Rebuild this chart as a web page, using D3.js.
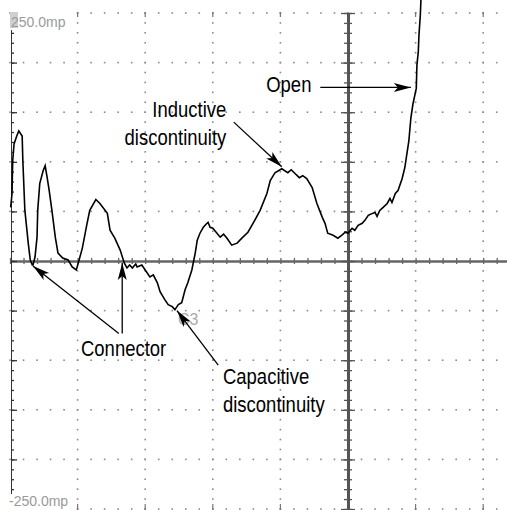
<!DOCTYPE html>
<html>
<head>
<meta charset="utf-8">
<script src="https://cdn.jsdelivr.net/npm/d3@7"></script>
<style>
  html, body { margin: 0; padding: 0; background: #fff; }
  svg { display: block; }
  .note { font-family: "Liberation Sans", Arial, sans-serif; font-size: 21.5px; fill: #000; }
  .scale { font-family: "Liberation Sans", Arial, sans-serif; font-size: 14px; fill: #9a9a9a; }
</style>
</head>
<body>
<div id="chart"></div>
<script>
// TDR trace: time in screen divisions, reflection in milli-rho
const timeDiv = [
  0.01, 0.03, 0.04, 0.06, 0.10, 0.13, 0.18, 0.19, 0.22, 0.27,
  0.30, 0.33, 0.34, 0.37, 0.40, 0.41, 0.44, 0.49, 0.52, 0.55,
  0.58, 0.62, 0.67, 0.71, 0.78, 0.86, 0.92, 0.98, 1.01, 1.07,
  1.14, 1.18, 1.27, 1.33, 1.44, 1.48, 1.55, 1.63, 1.69, 1.73,
  1.77, 1.81, 1.86, 1.88, 1.95, 2.00, 2.07, 2.12, 2.18, 2.22, 2.29,
  2.34, 2.40, 2.44, 2.47, 2.49, 2.54, 2.59, 2.63, 2.69, 2.74,
  2.77, 2.81, 2.86, 2.90, 2.93, 2.96, 3.00, 3.11, 3.16, 3.21, 3.28, 3.36, 3.43,
  3.52, 3.62, 3.70, 3.80, 3.85, 3.92, 4.02, 4.11, 4.16, 4.22, 4.28, 4.33,
  4.39, 4.47, 4.54, 4.62, 4.66, 4.70, 4.78, 4.85, 4.91, 4.96,
  5.00, 5.06, 5.10, 5.15, 5.21, 5.25, 5.30, 5.36, 5.40, 5.43, 5.47,
  5.52, 5.58, 5.62, 5.65, 5.70, 5.74, 5.80, 5.84, 5.90, 5.93,
  5.96, 6.01, 6.02, 6.04, 6.05, 6.07, 6.08
];
const rhoMilli = [
  54, 68, 101, 118, 126, 131, 126, 101, 51, 18,
  1, -4, -4, 4, 24, 51, 78, 91, 96, 84,
  71, 51, 24, 8, 3, 1, -6, -9, -2, 13,
  38, 51, 62, 58, 48, 31, 23, 11, -2, -7,
  -4, -7, -3, -6, -4, -9, -16, -14, -22, -31, -39,
  -44, -46, -49, -46, -44, -42, -29, -22, -9, 8,
  21, 28, 34, 37, 39, 34, 33, 24, 27, 23, 16, 18, 23,
  29, 41, 51, 68, 81, 89, 93, 89, 92, 88, 84, 86,
  83, 74, 58, 44, 38, 28, 26, 23, 26, 29,
  28, 33, 31, 36, 38, 41, 46, 48, 49, 45, 51,
  54, 58, 63, 59, 68, 71, 83, 94, 121, 144,
  158, 174, 198, 211, 228, 248, 265
];
const scaleTop = '250.0mp';
const scaleBottom = '-250.0mp';
const cursorLabel = 'C3';

// annotation texts, placed in data units (t, mrho)
const noteTexts = ['Open', 'Inductive', 'discontinuity', 'Connector', 'Capacitive', 'discontinuity'];
const notePos = [[3.79, 170, 'start'], [3.20, 145, 'end'], [3.20, 117, 'end'], [1.05, -96, 'start'], [3.15, -124, 'start'], [3.15, -152, 'start']];
// arrows: [tail t, tail rho, tip t, tip rho]
const arrows = [
  [4.59, 175, 5.93, 175],
  [3.31, 140, 4.02, 95],
  [1.61, -73, 0.34, -5],
  [1.66, -73, 1.66, -2],
  [3.08, -105, 2.47, -50]
];

const W = 507, H = 510;
const x = d3.scaleLinear().domain([0, 10]).range([10, 686]);
const y = d3.scaleLinear().domain([-250, 250]).range([509, 13]);

const svg = d3.select('#chart').append('svg')
  .attr('width', W)
  .attr('height', H);
svg.append('rect').attr('width', W).attr('height', H).attr('fill', '#fff');

// dotted graticule
const majorT = d3.range(0, 11, 1);
const majorV = d3.range(-250, 251, 50);
const minorT = d3.range(0, 10.01, 0.2);
const minorV = d3.range(-250, 251, 10);

const grid = svg.append('g').attr('fill', '#8a8a8a');
majorV.filter(v => v !== 0).forEach(v => {
  grid.selectAll(null).data(minorT).join('rect')
    .attr('x', d => x(d) - 0.8)
    .attr('y', y(v) - 0.8)
    .attr('width', 1.6).attr('height', 1.6);
});
majorT.filter(t => t !== 0 && t !== 5).forEach(t => {
  grid.selectAll(null).data(minorV).join('rect')
    .attr('x', x(t) - 0.8)
    .attr('y', d => y(d) - 0.8)
    .attr('width', 1.6).attr('height', 1.6);
});
// column marks on top and bottom rows
const edgeMarks = svg.append('g').attr('stroke', '#777').attr('stroke-width', 1.2);
majorT.filter(t => t !== 0 && t !== 5).forEach(t => {
  edgeMarks.append('line').attr('x1', x(t)).attr('x2', x(t)).attr('y1', y(250) - 1).attr('y2', y(250) + 4);
  edgeMarks.append('line').attr('x1', x(t)).attr('x2', x(t)).attr('y1', y(-250) - 5).attr('y2', y(-250) + 1);
});

// centre crosshair
function styleAxis(g, color, width) {
  g.select('.domain').attr('stroke', color).attr('stroke-width', width);
  g.selectAll('.tick line').attr('stroke', color).attr('stroke-width', 1.3);
}
const hAxis = svg.append('g').attr('transform', `translate(0,${y(0)})`);
hAxis.append('g').call(d3.axisTop(x).tickValues(minorT).tickSize(3).tickSizeOuter(0).tickFormat(''))
  .call(g => styleAxis(g, '#666', 2));
hAxis.append('g').call(d3.axisBottom(x).tickValues(minorT).tickSize(3).tickSizeOuter(0).tickFormat(''))
  .call(g => styleAxis(g, '#666', 2));

const vAxis = svg.append('g').attr('transform', `translate(${x(5)},0)`);
vAxis.append('g').call(d3.axisLeft(y).tickValues(minorV).tickSize(4).tickSizeOuter(0).tickFormat(''))
  .call(g => styleAxis(g, '#555', 3));
vAxis.append('g').call(d3.axisRight(y).tickValues(minorV).tickSize(4).tickSizeOuter(0).tickFormat(''))
  .call(g => styleAxis(g, '#555', 3));
vAxis.append('g').call(d3.axisLeft(y).tickValues(majorV).tickSize(7).tickSizeOuter(0).tickFormat(''))
  .call(g => styleAxis(g, '#555', 3));
vAxis.append('g').call(d3.axisRight(y).tickValues(majorV).tickSize(7).tickSizeOuter(0).tickFormat(''))
  .call(g => styleAxis(g, '#555', 3));

// left edge scale
const leftEdge = svg.append('g').attr('transform', `translate(${x(0) + 1},0)`);
leftEdge.append('g').call(d3.axisRight(y).tickValues(minorV).tickSize(3).tickSizeOuter(0).tickFormat(''))
  .call(g => styleAxis(g, '#333', 1));
leftEdge.append('g').call(d3.axisRight(y).tickValues(majorV).tickSize(6).tickSizeOuter(0).tickFormat(''))
  .call(g => styleAxis(g, '#333', 1));

// scale readouts
svg.append('rect').attr('x', 10).attr('y', 12).attr('width', 58).attr('height', 18).attr('fill', '#fff');
svg.append('rect').attr('x', 10).attr('y', 12).attr('width', 8).attr('height', 16).attr('fill', '#cfcfcf');
svg.append('text').attr('class', 'scale').attr('x', 11).attr('y', 27).text(scaleTop);
svg.append('rect').attr('x', 9).attr('y', 494).attr('width', 62).attr('height', 16).attr('fill', '#fff');
svg.append('text').attr('class', 'scale').attr('x', 9).attr('y', 506).text(scaleBottom);

// cursor readout near capacitive dip
svg.append('text').attr('class', 'scale')
  .attr('x', x(2.485)).attr('y', y(-65))
  .style('font-size', '16px').style('fill', '#aaa')
  .text(cursorLabel);

// trace
const points = timeDiv.map((t, i) => [t, rhoMilli[i]]);
const line = d3.line().x(d => x(d[0])).y(d => y(d[1]));
svg.append('path')
  .datum(points)
  .attr('fill', 'none')
  .attr('stroke', '#000')
  .attr('stroke-width', 1.6)
  .attr('stroke-linejoin', 'miter')
  .attr('d', line);

// annotations
const defs = svg.append('defs');
defs.append('marker')
  .attr('id', 'head')
  .attr('viewBox', '-18 -5 20 10')
  .attr('refX', 0).attr('refY', 0)
  .attr('markerWidth', 20).attr('markerHeight', 10)
  .attr('markerUnits', 'userSpaceOnUse')
  .attr('orient', 'auto')
  .append('path')
  .attr('d', 'M0,0L-17,-4.5L-13,0L-17,4.5Z')
  .attr('fill', '#000');

svg.append('g').selectAll('line').data(arrows).join('line')
  .attr('x1', d => x(d[0])).attr('y1', d => y(d[1]))
  .attr('x2', d => x(d[2])).attr('y2', d => y(d[3]))
  .attr('stroke', '#000')
  .attr('stroke-width', 1.3)
  .attr('marker-end', 'url(#head)');

// condensed lettering, as on the original scope annotations
svg.append('g').selectAll('text').data(noteTexts).join('text')
  .attr('class', 'note')
  .attr('transform', (d, i) => `translate(${x(notePos[i][0])},${y(notePos[i][1])}) scale(0.86,1)`)
  .attr('text-anchor', (d, i) => notePos[i][2])
  .text(d => d);
</script>
</body>
</html>
